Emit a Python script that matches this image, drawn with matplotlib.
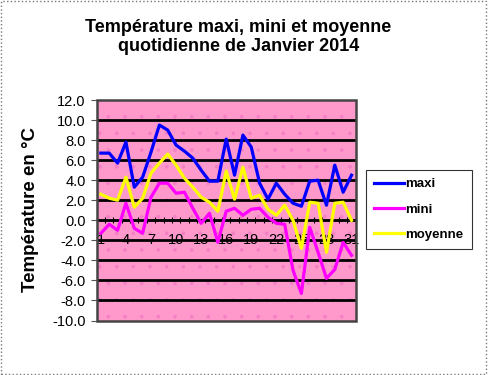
import matplotlib.pyplot as plt
from matplotlib.patches import Rectangle
from matplotlib.ticker import FixedLocator, FormatStrFormatter

plt.rcParams['font.family'] = ['Liberation Sans', 'DejaVu Sans']
plt.rcParams['hatch.linewidth'] = 0.25

days = list(range(1, 32))
maxi = [6.7, 6.7, 5.7, 7.8, 3.3, 4.3, 6.8, 9.5, 9.0, 7.5, 6.9, 6.2, 5.0, 3.9, 3.9, 8.1,
        4.5, 8.5, 7.3, 3.7, 2.1, 3.7, 2.6, 1.7, 1.4, 3.9, 4.0, 1.5, 5.5, 2.8, 4.5]
mini = [-1.3, -0.4, -1.0, 1.7, -0.8, -1.3, 2.3, 3.7, 3.7, 2.7, 2.8, 1.2, -0.3, 0.7, -2.2, 0.9,
        1.2, 0.5, 1.1, 1.2, 0.3, -0.3, -0.4, -5.0, -7.3, -0.7, -3.2, -5.8, -4.9, -2.2, -3.5]
moyenne = [2.6, 2.2, 2.0, 4.3, 1.3, 2.2, 4.7, 5.7, 6.6, 5.5, 4.2, 3.3, 2.3, 1.8, 0.9, 4.9,
           2.1, 5.3, 2.2, 2.5, 1.1, 0.5, 1.5, 0.0, -2.8, 1.8, 1.7, -3.2, 1.7, 1.8, 0.0]
day_labels = [1, 4, 7, 10, 13, 16, 19, 22, 25, 28, 31]
y_ticks = list(range(-10, 13, 2))

fig = plt.figure(figsize=(4.88, 3.75), dpi=100)
ax = fig.add_axes([96.7 / 488, 1 - 320.5 / 375, 259 / 488, 220.5 / 375])

# pink plot area with light dot pattern
ax.set_facecolor('#FF99CC')
ax.add_patch(Rectangle((0, 0), 1, 1, transform=ax.transAxes, facecolor='none',
                       hatch='.', edgecolor='#F47FC4', lw=0, zorder=0))

ax.set_xlim(0.5, 31.5)
ax.set_ylim(-10, 12)

# black horizontal grid
for v in y_ticks[1:-1]:
    ax.axhline(v, color='black', lw=2, zorder=1)

ax.plot(days, maxi, color='#0000FF', lw=2.3, label='maxi', zorder=3)
ax.plot(days, mini, color='#FF00FF', lw=2.3, label='mini', zorder=3)
ax.plot(days, moyenne, color='#FFFF00', lw=2.3, label='moyenne', zorder=3)

# y axis
ax.set_yticks(y_ticks)
ax.yaxis.set_major_formatter(FormatStrFormatter('%.1f'))
ax.tick_params(axis='y', length=4, width=0.8, color='#555555', labelsize=10.5, pad=4)

# x axis sits on zero
ax.spines['bottom'].set_position(('data', 0))
ax.spines['bottom'].set_color('black')
ax.spines['bottom'].set_linewidth(1)
ax.spines['bottom'].set_zorder(2)
for s in ['top', 'right', 'left']:
    ax.spines[s].set_visible(False)
ax.set_xticks(day_labels)
ax.set_xticklabels([str(d) for d in day_labels])
ax.xaxis.set_minor_locator(FixedLocator([d + 0.5 for d in range(0, 32)]))
ax.tick_params(axis='x', which='major', length=0, labelsize=10.5, pad=9)
ax.tick_params(axis='x', which='minor', length=4, width=0.8, direction='inout')

# plot area frame
ax.add_patch(Rectangle((0, 0), 1, 1, transform=ax.transAxes, fill=False,
                       edgecolor='#444444', lw=1.8, zorder=4, clip_on=False))

fig.text(0.488, 1 - 37 / 375, 'Température maxi, mini et moyenne\nquotidienne de Janvier 2014',
         ha='center', va='center', fontsize=13, fontweight='bold', linespacing=1.2)
fig.text(31 / 488, 1 - 210 / 375, 'Température en °C', rotation=90,
         ha='center', va='center', fontsize=13.5, fontweight='bold')

leg = fig.legend(loc='center left', bbox_to_anchor=(366 / 488, 1 - 209.5 / 375),
                 fontsize=9.5, frameon=True, fancybox=False, edgecolor='black',
                 handlelength=2.3, labelspacing=1.0, borderpad=0.6, handletextpad=0.1,
                 borderaxespad=0)
leg.get_frame().set_linewidth(0.8)
for t in leg.get_texts():
    t.set_fontweight('bold')

# dotted outer border
fig.patches.append(Rectangle((0.002, 0.003), 0.994, 0.994, transform=fig.transFigure,
                             fill=False, edgecolor='#777777', lw=1, linestyle=':'))

fig.savefig('out.png', dpi=100)
